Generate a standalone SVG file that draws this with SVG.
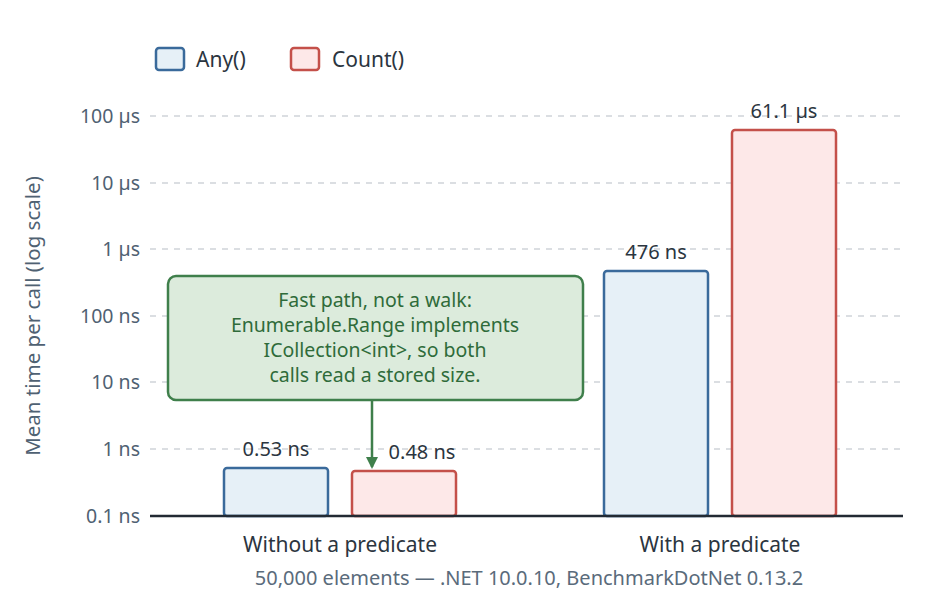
<svg xmlns="http://www.w3.org/2000/svg" width="940" height="600" viewBox="0 0 940 600">
<defs>
<style>
text{font-family:"Noto Sans","Open Sans","Liberation Sans",sans-serif;}
.tick{font-size:19.5px;fill:#4f6172;text-anchor:end;}
.grid{stroke:#cfd4d9;stroke-width:1.5;stroke-dasharray:6 6;}
.any{fill:#e6f0f7;stroke:#3a6a9b;stroke-width:2.5;}
.cnt{fill:#fde8e8;stroke:#c4504a;stroke-width:2.5;}
.val{font-size:20px;fill:#2b3540;text-anchor:middle;}
.cat{font-size:21px;fill:#2b3540;text-anchor:middle;}
.note{font-size:19.5px;fill:#2f6b3a;text-anchor:middle;}
</style>
<marker id="ah" markerWidth="12" markerHeight="12" refX="10" refY="6" orient="auto" markerUnits="userSpaceOnUse">
<path d="M0,0 L12,6 L0,12 z" fill="#3f7f4b"/>
</marker>
</defs>
<rect width="940" height="600" fill="#ffffff"/>
<g id="legend">
<rect x="156" y="48" width="28" height="22" rx="3" class="any"/>
<text x="196" y="67" font-size="21" fill="#2b3540">Any()</text>
<rect x="291" y="48" width="28" height="22" rx="3" class="cnt"/>
<text x="332" y="67" font-size="21" fill="#2b3540">Count()</text>
</g>
<g id="axes">
<line x1="150" y1="116" x2="903" y2="116" class="grid"/>
<line x1="150" y1="183" x2="903" y2="183" class="grid"/>
<line x1="150" y1="249" x2="903" y2="249" class="grid"/>
<line x1="150" y1="316" x2="903" y2="316" class="grid"/>
<line x1="150" y1="382" x2="903" y2="382" class="grid"/>
<line x1="150" y1="449" x2="903" y2="449" class="grid"/>
<text x="140" y="123" class="tick">100 µs</text>
<text x="140" y="190" class="tick">10 µs</text>
<text x="140" y="256" class="tick">1 µs</text>
<text x="140" y="323" class="tick">100 ns</text>
<text x="140" y="389" class="tick">10 ns</text>
<text x="140" y="456" class="tick">1 ns</text>
<text x="140" y="523" class="tick">0.1 ns</text>
<text transform="translate(40,316) rotate(-90)" font-size="20.5" fill="#4f6172" text-anchor="middle">Mean time per call (log scale)</text>
</g>
<g id="bar-any-without"><rect x="224" y="468" width="104" height="48" rx="3" class="any"/><text x="276" y="456" class="val">0.53 ns</text></g>
<g id="bar-count-without"><rect x="352" y="471" width="104" height="45" rx="3" class="cnt"/><text x="422" y="459" class="val">0.48 ns</text></g>
<g id="bar-any-with"><rect x="604" y="271" width="104" height="245" rx="3" class="any"/><text x="656" y="259" class="val">476 ns</text></g>
<g id="bar-count-with"><rect x="732" y="130" width="104" height="386" rx="3" class="cnt"/><text x="784" y="118" class="val">61.1 µs</text></g>
<line x1="150" y1="516" x2="903" y2="516" stroke="#222a33" stroke-width="2.5"/>
<text x="340" y="552" class="cat">Without a predicate</text>
<text x="720" y="552" class="cat">With a predicate</text>
<text x="529" y="585" font-size="20" fill="#5a6b7b" text-anchor="middle">50,000 elements — .NET 10.0.10, BenchmarkDotNet 0.13.2</text>
<g id="annotation">
<rect x="168" y="276" width="415" height="124" rx="8" fill="#dcebdc" stroke="#3f7f4b" stroke-width="2.5"/>
<text x="375" y="307" class="note">Fast path, not a walk:</text>
<text x="375" y="332" class="note">Enumerable.Range implements</text>
<text x="375" y="357" class="note">ICollection&lt;int&gt;, so both</text>
<text x="375" y="382" class="note">calls read a stored size.</text>
</g>
<g id="connectors">
<line x1="372" y1="400" x2="372" y2="467" stroke="#3f7f4b" stroke-width="2.5" marker-end="url(#ah)"/>
</g>
</svg>
